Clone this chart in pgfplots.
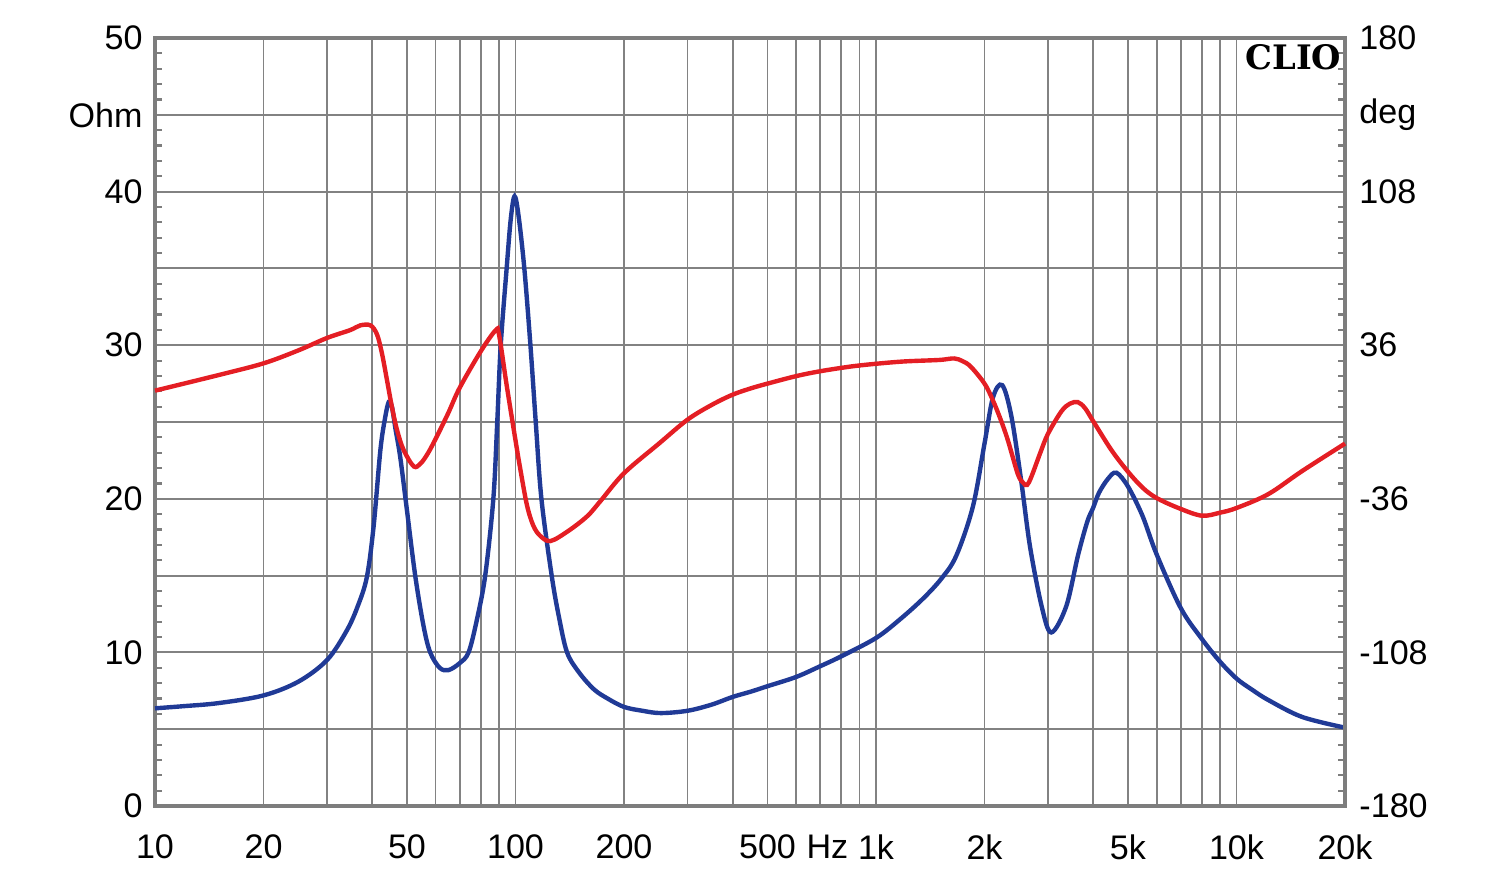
\documentclass[border=0pt]{standalone}
\usepackage{fontspec}
\setmainfont{Liberation Sans}
\newfontfamily\cliofont{DejaVu Serif}
\usepackage{pgfplots}
\usepackage{pgfplotstable}
\pgfplotsset{compat=1.18}

\definecolor{zblue}{RGB}{32,58,150}
\definecolor{phred}{RGB}{228,30,36}
\definecolor{gridgray}{RGB}{130,130,130}
\definecolor{framegray}{RGB}{125,125,125}

% impedance magnitude (Ohm)
\pgfplotstableread{
f z
10 6.36
12 6.5
15 6.7
20 7.2
25 8.1
30 9.5
34 11.4
36.5 13.0
38.7 14.9
40.4 18.2
42.2 23.2
43.5 25.3
44.5 26.3
45.4 26.0
46.5 24.5
47.9 22.7
49.9 19.4
52.7 15.0
55.6 11.7
58 10.0
61.6 9.0
65.2 8.85
70 9.3
74.1 10.0
78.1 12.1
82.4 15.0
86.8 20.0
89 25.0
91 30.0
94.5 35.0
97 38.2
99.4 39.7
102 38.4
105.8 35.0
110 30.0
113.8 25.0
118 20.0
126 15.0
132 12.3
139 10.0
150 8.7
165 7.6
180 7.0
200 6.45
225 6.2
253 6.05
300 6.2
350 6.6
400 7.1
450 7.45
500 7.8
600 8.4
700 9.1
800 9.74
1000 10.94
1172 12.2
1350 13.5
1518 14.8
1670 16.3
1857 19.5
2000 23.6
2111 26.6
2239 27.4
2373 25.4
2527 21.2
2674 16.9
2881 13.0
3063 11.3
3370 13.0
3632 16.3
3855 18.5
4000 19.4
4156 20.4
4400 21.3
4642 21.7
5000 20.8
5483 18.9
6000 16.4
7000 12.9
8000 10.9
9000 9.4
10000 8.3
11000 7.6
12250 6.9
15200 5.8
20000 5.1
}\impedance

% phase (deg)
\pgfplotstableread{
f ph
10 14.7
15 22.0
20 27.5
25 33.6
30 39.4
34.8 43.1
37.1 45.3
39.6 45.3
41.3 41.0
42.6 32.3
44.0 19.7
45.4 7.2
46.9 -3.6
48.9 -13.0
52.2 -20.8
54.5 -19.5
57 -15.0
60 -8.0
65 4.0
70 16.0
80 33.0
88 42.9
90 41.0
94.5 17.3
100 -8.6
103 -21.6
107.6 -39.0
112 -48.5
117 -53.3
125 -55.8
140 -51.1
158 -44.2
172 -37.1
200 -24.0
250 -10.1
300 1.1
350 8.0
400 12.8
450 15.8
500 18.0
600 21.5
700 23.8
850 26.0
1000 27.3
1200 28.4
1500 29.1
1648 29.8
1740 28.5
1833 25.9
2000 18.0
2108 10.3
2220 0.9
2322 -8.6
2475 -24.5
2560 -28.5
2625 -29.5
2700 -25.5
2862 -14.0
3000 -5.5
3268 5.0
3450 8.6
3632 9.3
3800 6.5
4000 0.5
4496 -13.1
5000 -23.3
5500 -30.9
6000 -35.6
6900 -40.3
8000 -43.9
9000 -42.5
10000 -40.3
12250 -33.8
15200 -23.0
20000 -10.1
}\phase

\begin{document}
\begin{tikzpicture}
\useasboundingbox (-1.55,-0.79) rectangle (13.45,8.06);
\begin{axis}[
  at={(0,0)}, anchor=south west,
  scale only axis, width=11.9cm, height=7.68cm,
  xmode=log, xmin=10, xmax=20000,
  ymin=0, ymax=50,
  clip=false,
  tick align=inside,
  major tick length=0pt,
  minor tick length=0.07cm,
  minor tick style={draw=framegray, line width=0.6pt},
  axis line style={draw=framegray, line width=1.3pt},
  tick label style={font=\fontsize{9.7}{11}\selectfont},
  ytick={0,5,...,50},
  yticklabels={0,{},10,{},20,{},30,{},40,Ohm,50},
  minor y tick num=4,
  ytick pos=left,
  xtick pos=bottom,
  xtick={10,20,30,40,50,60,70,80,90,100,200,300,400,500,600,700,800,900,1000,2000,3000,4000,5000,6000,7000,8000,9000,10000,20000},
  xticklabels={10,20,{},{},50,{},{},{},{},100,200,{},{},500,{},{},{},{},1k,2k,{},{},5k,{},{},{},{},10k,20k},
  xticklabel style={yshift=-0.16cm},
  grid=major,
  grid style={draw=gridgray, line width=0.55pt},
]
\addplot[zblue, line width=1.25pt, smooth, tension=0.55] table[x=f, y=z] {\impedance};
\node[anchor=north, yshift=-0.17cm, font=\fontsize{9.7}{11}\selectfont]
  at (rel axis cs:0.565,0) {Hz};
\end{axis}
\begin{axis}[
  at={(0,0)}, anchor=south west,
  scale only axis, width=11.9cm, height=7.68cm,
  xmode=log, xmin=10, xmax=20000,
  ymin=-180, ymax=180,
  axis y line*=right,
  axis x line=none,
  clip=false,
  tick align=inside,
  major tick length=0pt,
  minor tick length=0.07cm,
  minor tick style={draw=framegray, line width=0.6pt},
  axis line style={draw=framegray, line width=1.3pt},
  tick label style={font=\fontsize{9.7}{11}\selectfont},
  ytick={-180,-144,...,180},
  yticklabels={-180,{},-108,{},-36,{},36,{},108,deg,180},
  minor y tick num=4,
  yticklabel style={xshift=0.02cm},
]
\addplot[phred, line width=1.25pt, smooth, tension=0.55] table[x=f, y=ph] {\phase};
\node[anchor=east, inner sep=0pt, font=\cliofont\bfseries\fontsize{9.6}{11}\selectfont]
  at (rel axis cs:0.9975,0.975) {CLIO};
\end{axis}
\end{tikzpicture}
\end{document}
